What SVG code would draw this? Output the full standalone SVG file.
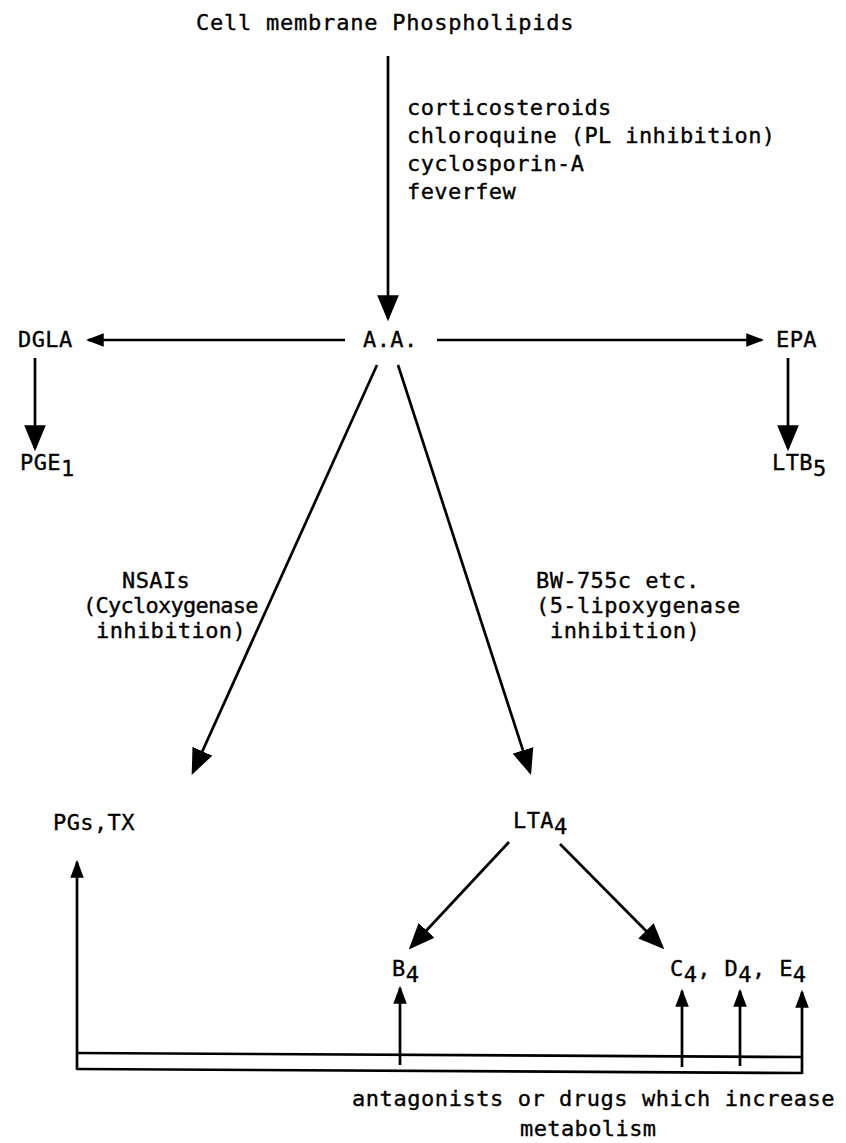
<svg xmlns="http://www.w3.org/2000/svg" width="846" height="1143" viewBox="0 0 846 1143">
<style>
text{font-family:"DejaVu Sans Mono","Liberation Mono",monospace;font-size:22px;letter-spacing:0.4px;fill:#000;stroke:#000;stroke-width:0.35}
.c{stroke:#000;stroke-width:2.7;fill:none}
</style>
<defs>
<marker id="big" markerUnits="userSpaceOnUse" markerWidth="26" markerHeight="22" viewBox="0 0 24 20" refX="21" refY="10" orient="auto"><path d="M0,0 L24,10 L0,20 z" fill="#000"/></marker>
<marker id="sm" markerUnits="userSpaceOnUse" markerWidth="18" markerHeight="14" viewBox="0 0 16 12" refX="14" refY="6" orient="auto"><path d="M0,0 L16,6 L0,12 z" fill="#000"/></marker>
</defs>
<rect width="846" height="1143" fill="#fff"/>
<g id="connectors">
<path class="c" d="M388,56 L388,318" marker-end="url(#big)"/>
<path class="c" d="M345,340 L88,340" marker-end="url(#sm)"/>
<path class="c" d="M437,340 L762,340" marker-end="url(#sm)"/>
<path class="c" d="M35,358 L35,448" marker-end="url(#big)"/>
<path class="c" d="M788,358 L788,448" marker-end="url(#big)"/>
<path class="c" d="M377,365 L193,772" marker-end="url(#big)"/>
<path class="c" d="M398,365 L530,772" marker-end="url(#big)"/>
<path class="c" d="M509,842 L411,947" marker-end="url(#big)"/>
<path class="c" d="M560,844 L662,947" marker-end="url(#big)"/>
<path class="c" d="M77,1053 L802,1057"/>
<path class="c" d="M77,1069 L802,1073"/>
<path class="c" d="M77,1070 L77,862" marker-end="url(#sm)"/>
<path class="c" d="M802,1074 L802,992" marker-end="url(#sm)"/>
<path class="c" d="M400,1065 L400,988" marker-end="url(#sm)"/>
<path class="c" d="M682,1067 L682,991" marker-end="url(#sm)"/>
<path class="c" d="M740,1066 L740,991" marker-end="url(#sm)"/>
</g>
<g id="phospholipids"><text x="196" y="30" textLength="378" lengthAdjust="spacing">Cell membrane Phospholipids</text></g>
<g id="inhibitors-pl">
<text x="407" y="115">corticosteroids</text>
<text x="407" y="143">chloroquine (PL inhibition)</text>
<text x="407" y="171">cyclosporin-A</text>
<text x="407" y="199">feverfew</text>
</g>
<g id="aa"><text x="363" y="347">A.A.</text></g>
<g id="dgla"><text x="18" y="347">DGLA</text></g>
<g id="epa"><text x="776" y="347">EPA</text></g>
<g id="pge1"><text x="20" y="470">PGE<tspan dy="6">1</tspan></text></g>
<g id="ltb5"><text x="772" y="470">LTB<tspan dy="6">5</tspan></text></g>
<g id="nsais">
<text x="122" y="588">NSAIs</text>
<text x="83" y="613" textLength="176" lengthAdjust="spacing">(Cycloxygenase</text>
<text x="96" y="638">inhibition)</text>
</g>
<g id="bw755c">
<text x="536" y="588">BW-755c etc.</text>
<text x="536" y="613">(5-lipoxygenase</text>
<text x="550" y="638">inhibition)</text>
</g>
<g id="pgs-tx"><text x="53" y="830">PGs,TX</text></g>
<g id="lta4"><text x="513" y="828">LTA<tspan dy="6">4</tspan></text></g>
<g id="b4"><text x="392" y="976">B<tspan dy="6">4</tspan></text></g>
<g id="c4-d4-e4"><text x="670" y="976" letter-spacing="1.2">C<tspan dy="6">4</tspan><tspan dy="-6">, D</tspan><tspan dy="6">4</tspan><tspan dy="-6">, E</tspan><tspan dy="6">4</tspan></text></g>
<g id="antagonists">
<text x="352" y="1106" textLength="483" lengthAdjust="spacing">antagonists or drugs which increase</text>
<text x="520" y="1136">metabolism</text>
</g>
</svg>
